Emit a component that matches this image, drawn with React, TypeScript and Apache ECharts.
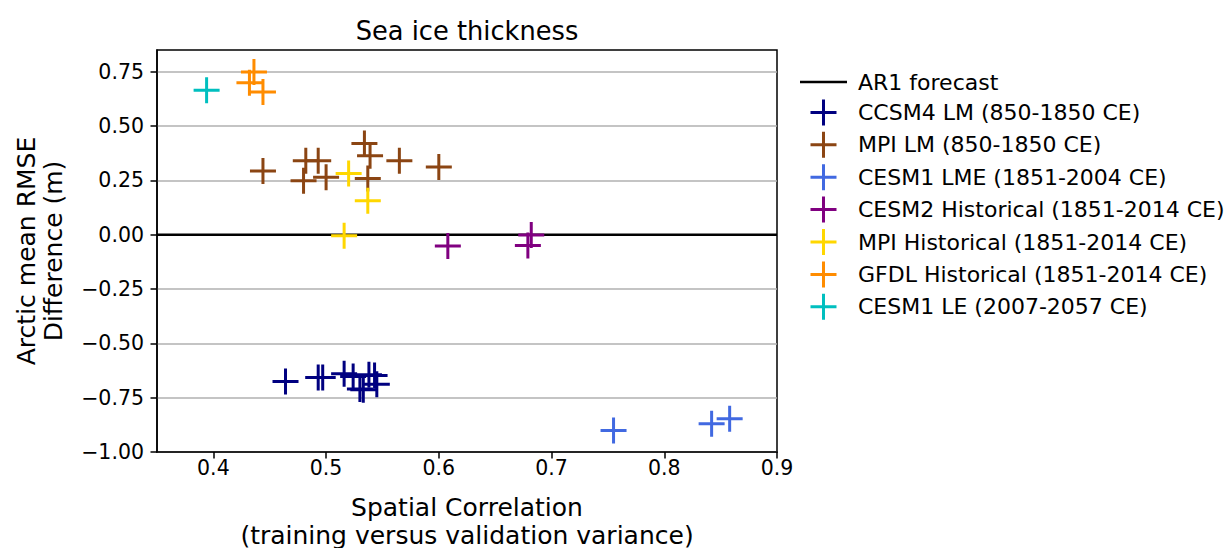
import React, { useEffect, useRef } from "react";
import * as echarts from "echarts";

const TITLE = "Sea ice thickness";
const X_NAME = "Spatial Correlation\n(training versus validation variance)";
const Y_NAME = "Arctic mean RMSE\nDifference (m)";

const X_TICKS = [0.4, 0.5, 0.6, 0.7, 0.8, 0.9];
const Y_TICKS = [-1.0, -0.75, -0.5, -0.25, 0.0, 0.25, 0.5, 0.75];

const AR1_NAME = "AR1 forecast";
const AR1_X = [0.35, 0.9];
const AR1_Y = [0, 0];

const CCSM4_X = [0.464, 0.493, 0.497, 0.516, 0.524, 0.538, 0.530, 0.533, 0.545, 0.543];
const CCSM4_Y = [-0.676, -0.657, -0.657, -0.640, -0.653, -0.645, -0.710, -0.714, -0.688, -0.648];

const MPILM_X = [0.444, 0.482, 0.493, 0.480, 0.500, 0.534, 0.539, 0.537, 0.565, 0.600];
const MPILM_Y = [0.293, 0.340, 0.340, 0.248, 0.264, 0.420, 0.363, 0.259, 0.340, 0.312];

const LME_X = [0.755, 0.842, 0.858];
const LME_Y = [-0.901, -0.870, -0.847];

const CESM2_X = [0.608, 0.682, 0.679];
const CESM2_Y = [-0.052, -0.001, -0.050];

const MPIH_X = [0.520, 0.537, 0.516];
const MPIH_Y = [0.282, 0.156, -0.005];

const GFDL_X = [0.436, 0.432, 0.444];
const GFDL_Y = [0.749, 0.699, 0.657];

const LE_X = [0.394];
const LE_Y = [0.665];

const SERIES = [
  { name: "CCSM4 LM (850-1850 CE)", color: "#000080", x: CCSM4_X, y: CCSM4_Y },
  { name: "MPI LM (850-1850 CE)", color: "#8B4513", x: MPILM_X, y: MPILM_Y },
  { name: "CESM1 LME (1851-2004 CE)", color: "#4169E1", x: LME_X, y: LME_Y },
  { name: "CESM2 Historical (1851-2014 CE)", color: "#800080", x: CESM2_X, y: CESM2_Y },
  { name: "MPI Historical (1851-2014 CE)", color: "#FFD700", x: MPIH_X, y: MPIH_Y },
  { name: "GFDL Historical (1851-2014 CE)", color: "#FF8C00", x: GFDL_X, y: GFDL_Y },
  { name: "CESM1 LE (2007-2057 CE)", color: "#00BFBF", x: LE_X, y: LE_Y },
];

const FONT = "DejaVu Sans";
const CROSS =
  "path://M-1.5,-13 H1.5 V-1.5 H13 V1.5 H1.5 V13 H-1.5 V1.5 H-13 V-1.5 H-1.5 Z";
const LINE_ICON = "path://M0,-1.25 H47 V1.25 H0 Z";

const zip = (xs: number[], ys: number[]) => xs.map((v, i) => [v, ys[i]]);
const fmtY = (v: number) => v.toFixed(2).replace("-", "\u2212");

export default function App() {
  const ref = useRef<HTMLDivElement>(null);
  useEffect(() => {
    if (!ref.current) return;
    const chart = echarts.init(ref.current, null, { renderer: "svg" });
    const option: any = {
      animation: false,
      backgroundColor: "#ffffff",
      textStyle: { fontFamily: FONT },
      title: {
        text: TITLE,
        left: 462,
        top: 13,
        textAlign: "center",
        textStyle: { fontFamily: FONT, fontSize: 25.7, fontWeight: "normal", color: "#000" },
      },
      legend: {
        orient: "vertical",
        left: 795,
        top: 66,
        itemWidth: 47,
        itemHeight: 26,
        itemGap: 6.4,
        textStyle: { fontFamily: FONT, fontSize: 22, color: "#000", padding: [0, 0, 0, 6] },
        data: [
          { name: AR1_NAME, icon: LINE_ICON, itemStyle: { color: "#000" } },
          ...SERIES.map((s) => s.name),
        ],
      },
      grid: {
        left: 157,
        width: 620,
        top: 50,
        height: 402,
        containLabel: false,
        outerBoundsMode: "none",
        show: true,
        borderColor: "#000",
        borderWidth: 1.5,
        backgroundColor: "transparent",
      },
      xAxis: {
        type: "value",
        min: 0.35,
        max: 0.9,
        name: X_NAME,
        nameLocation: "middle",
        nameGap: 41,
        nameTextStyle: { fontFamily: FONT, fontSize: 25, color: "#000", lineHeight: 28 },
        axisLine: { show: true, onZero: false, lineStyle: { color: "#000", width: 1.5 } },
        axisTick: { show: true, length: 6.5, lineStyle: { color: "#000", width: 1.5 }, customValues: X_TICKS },
        axisLabel: {
          customValues: X_TICKS,
          margin: 5,
          fontFamily: FONT,
          fontSize: 20.5,
          color: "#000",
          formatter: (v: number) => v.toFixed(1),
        },
        splitLine: { show: false },
      },
      yAxis: {
        type: "value",
        min: -1,
        max: 0.85,
        name: Y_NAME,
        nameLocation: "middle",
        nameGap: 90,
        nameRotate: 90,
        nameTextStyle: { fontFamily: FONT, fontSize: 25, color: "#000", lineHeight: 27 },
        axisLine: { show: true, onZero: false, lineStyle: { color: "#000", width: 1.5 } },
        axisTick: { show: true, length: 6.5, lineStyle: { color: "#000", width: 1.5 }, customValues: Y_TICKS },
        axisLabel: {
          customValues: Y_TICKS,
          margin: 13,
          fontFamily: FONT,
          fontSize: 20.5,
          color: "#000",
          formatter: (v: number) => fmtY(v),
        },
        splitLine: { show: true, lineStyle: { color: "#b0b0b0", width: 1.5 } },
      },
      series: [
        {
          name: AR1_NAME,
          type: "line",
          data: zip(AR1_X, AR1_Y),
          symbol: "none",
          lineStyle: { color: "#000", width: 2.5 },
          itemStyle: { color: "#000" },
          z: 2,
        },
        ...SERIES.map((s) => ({
          name: s.name,
          type: "scatter",
          data: zip(s.x, s.y),
          symbol: CROSS,
          symbolSize: 26,
          itemStyle: { color: s.color, opacity: 1 },
          z: 3,
        })),
      ],
    };
    chart.setOption(option);
    return () => chart.dispose();
  }, []);
  return (
    <div
      ref={ref}
      style={{ position: "absolute", left: 0, top: 0, width: 1229, height: 548 }}
    />
  );
}
